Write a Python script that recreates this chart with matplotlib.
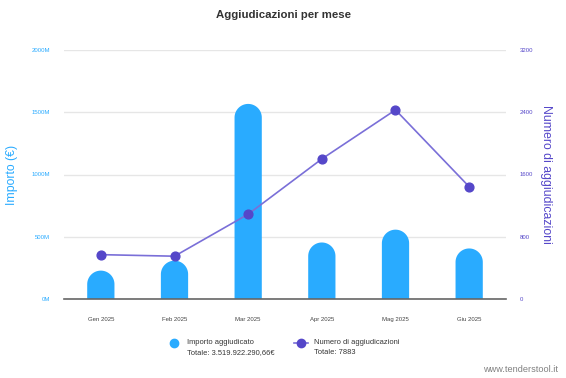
import matplotlib.pyplot as plt
import numpy as np
from matplotlib.patches import Polygon
from matplotlib.lines import Line2D

plt.rcParams["font.family"] = ["Liberation Sans", "DejaVu Sans"]

# %% data
mesi = ["Gen 2025", "Feb 2025", "Mar 2025", "Apr 2025", "Mag 2025", "Giu 2025"]
importo_M = [228, 308, 1567, 454, 557, 406]        # milioni di euro
numero = [570, 550, 1090, 1800, 2430, 1443]        # aggiudicazioni
totale_importo = "3.519.922.290,66€"
totale_numero = "7883"

BLUE = "#29abff"
PURPLE = "#5547c9"
LINE = "#7a6fd8"

fig = plt.figure(figsize=(5.66, 3.78), dpi=100)
ax = fig.add_axes([64 / 566, 1 - 299 / 378, 442 / 566, 249 / 378])
ax2 = ax.twinx()

x = np.arange(len(mesi))
ax.set_xlim(-0.5, len(mesi) - 0.5)
ax.set_ylim(0, 2000)
ax2.set_ylim(0, 3200)

# %% bars with rounded top (one polygon each, so no pixel snapping)
w = 0.37
fig_w, fig_h = fig.get_size_inches() * fig.dpi
bb = ax.get_position()
px_x = bb.width * fig_w / (ax.get_xlim()[1] - ax.get_xlim()[0])
px_y = bb.height * fig_h / (ax.get_ylim()[1] - ax.get_ylim()[0])
r = (w / 2) * px_x / px_y
theta = np.linspace(0, np.pi, 40)
for xi, h in zip(x, importo_M):
    arc_x = xi + (w / 2) * np.cos(theta)
    arc_y = (h - r) + r * np.sin(theta)
    px = np.concatenate([[xi + w / 2], arc_x, [xi - w / 2]])
    py = np.concatenate([[0], arc_y, [0]])
    ax.add_patch(Polygon(np.column_stack([px, py]), closed=True,
                         facecolor=BLUE, edgecolor="none", zorder=2))

# %% line
ax2.plot(x, numero, color=LINE, lw=1.2, zorder=3)
ax2.scatter(x, numero, s=40, color=PURPLE, zorder=4)

# %% axes styling
ax.set_yticks([0, 500, 1000, 1500, 2000])
ax.set_yticklabels(["0M", "500M", "1000M", "1500M", "2000M"])
ax2.set_yticks([0, 800, 1600, 2400, 3200])
ax.grid(axis="y", color="#e6e6e6", lw=1)
ax.set_axisbelow(True)
ax.set_xticks(x)
ax.set_xticklabels(mesi)
ax.tick_params(axis="x", length=0, labelsize=4.3, labelcolor="#444444", pad=13)
ax.tick_params(axis="y", length=0, labelsize=4.3, labelcolor=BLUE, pad=10)
ax2.tick_params(axis="y", length=0, labelsize=4.3, labelcolor=PURPLE, pad=10)
for a in (ax, ax2):
    for s in ["top", "right", "left"]:
        a.spines[s].set_visible(False)
ax2.spines["bottom"].set_visible(False)
ax.spines["bottom"].set_color("#666666")
ax.spines["bottom"].set_linewidth(1.2)
ax.spines["bottom"].set_zorder(5)

ax.set_ylabel("Importo (€)", color=BLUE, fontsize=8.8)
ax.yaxis.set_label_coords((18 - 64) / 442, 0.5)
ax2.set_ylabel("Numero di aggiudicazioni", color=PURPLE, fontsize=8.8,
               rotation=-90, va="center")
ax2.yaxis.set_label_coords((546 - 64) / 442, 0.5)

fig.text(283 / 566, 1 - 15 / 378, "Aggiudicazioni per mese", ha="center", va="center",
         fontsize=8.2, fontweight="bold", color="#333333")

# %% legend drawn by hand
fig.add_artist(Line2D([174 / 566], [1 - 343 / 378], marker="o", ms=6,
                      color=BLUE, lw=0))
fig.text(187 / 566, 1 - 343 / 378, "Importo aggiudicato", fontsize=5.4,
         color="#333333", va="center")
fig.text(187 / 566, 1 - 353 / 378, "Totale: " + totale_importo, fontsize=5.4,
         color="#333333", va="center")
fig.add_artist(Line2D([294 / 566, 308 / 566], [1 - 343 / 378] * 2,
                      color=LINE, lw=1.2))
fig.add_artist(Line2D([301 / 566], [1 - 343 / 378], marker="o", ms=6,
                      color=PURPLE, lw=0))
fig.text(314 / 566, 1 - 343 / 378, "Numero di aggiudicazioni", fontsize=5.4,
         color="#333333", va="center")
fig.text(314 / 566, 1 - 353 / 378, "Totale: " + totale_numero, fontsize=5.4,
         color="#333333", va="center")

fig.text(558 / 566, 1 - 369 / 378, "www.tenderstool.it", fontsize=6.6,
         color="#808080", ha="right", va="center")

fig.savefig("out.png", dpi=100)
